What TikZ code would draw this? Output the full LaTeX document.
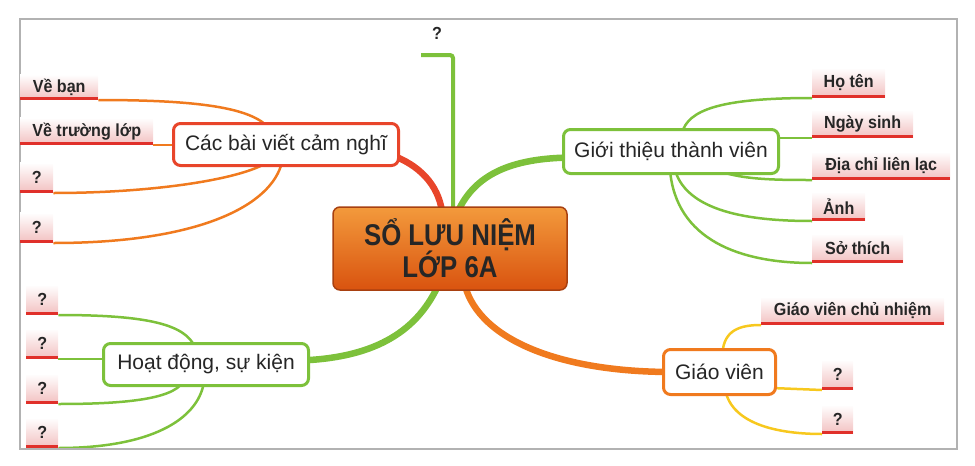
\documentclass[tikz,border=0pt]{standalone}
\usepackage{fontspec}
\setmainfont{Liberation Sans}
\newfontfamily\condfont[FakeStretch=0.86]{Liberation Sans}
\newfontfamily\labfont[FakeStretch=0.92]{Liberation Sans}
\usetikzlibrary{calc}
\pgfdeclarelayer{bg}
\pgfsetlayers{bg,main}
\definecolor{grn}{HTML}{7DC13B}
\definecolor{org}{HTML}{F07A1E}
\definecolor{redo}{HTML}{E8452A}
\definecolor{yel}{HTML}{F7C81E}
\definecolor{undl}{HTML}{E0302A}
\definecolor{pinkb}{HTML}{F2C0C0}
\definecolor{txt}{HTML}{262626}
\definecolor{ctop}{HTML}{F39A3C}
\definecolor{cbot}{HTML}{D9530F}
\definecolor{cbrd}{HTML}{A84010}
\tikzset{
  mainnode/.style={draw, line width=3pt, rounded corners=7pt, fill=white,
    font=\fontsize{21}{25}\selectfont, text=txt, inner sep=0pt},
  lab/.style={anchor=south west, top color=white, bottom color=pinkb,
    font=\labfont\bfseries\fontsize{17.5}{20}\selectfont, text=txt, inner sep=0pt,
    minimum height=28pt,
    path picture={\draw[undl, line width=6pt]
      (path picture bounding box.south west) -- (path picture bounding box.south east);}},
  centernode/.style={draw=cbrd, line width=1.5pt, rounded corners=7pt,
    top color=ctop, bottom color=cbot, text=txt, align=center,
    font=\condfont\bfseries\fontsize{30}{32}\selectfont, inner sep=0pt},
  mainbr/.style={line width=6.5pt},
  subbr/.style={line width=2.5pt},
}
\begin{document}
\begin{tikzpicture}[x=1pt,y=-1pt]
\useasboundingbox (0,0) rectangle (975,466);
\draw[gray!60, line width=1.5pt] (20,19) rectangle (957,449);

% center
\node[centernode, minimum width=234pt, minimum height=83pt] (c) at (450,248.5) {SỔ LƯU NIỆM\\LỚP 6A};

% main nodes
\node[mainnode, draw=redo, minimum width=225pt, minimum height=42pt] (cb) at (286,144.5) {Các bài viết cảm nghĩ};
\node[mainnode, draw=grn, minimum width=215pt, minimum height=44pt] (gt) at (671,151.5) {Giới thiệu thành viên};
\node[mainnode, draw=org, minimum width=112pt, minimum height=45pt] (gv) at (719.5,372) {Giáo viên};
\node[mainnode, draw=grn, minimum width=205pt, minimum height=42pt] (hd) at (206,364.5) {Hoạt động, sự kiện};

% top question
\node[font=\labfont\bfseries\fontsize{17.5}{20}\selectfont, text=txt] (q0) at (437,33) {?};
\coordinate (qt) at (421,55);

% left labels
\node[lab, minimum width=78pt, minimum height=25pt] (l1) at (20,100) {Về bạn};
\node[lab, minimum width=133pt, minimum height=27pt] (l2) at (20,145) {Về trường lớp};
\node[lab, minimum width=33pt, minimum height=30pt] (l3) at (20,193) {?};
\node[lab, minimum width=33pt, minimum height=30pt] (l4) at (20,243) {?};

% right labels
\node[lab, minimum width=73pt, minimum height=30pt] (r1) at (812,98) {Họ tên};
\node[lab, minimum width=101pt] (r2) at (812,138) {Ngày sinh};
\node[lab, minimum width=138pt] (r3) at (812,180) {Địa chỉ liên lạc};
\node[lab, minimum width=53pt, minimum height=29pt] (r4) at (812,221) {Ảnh};
\node[lab, minimum width=91pt, minimum height=29pt] (r5) at (812,263) {Sở thích};

% teacher labels
\node[lab, minimum width=183pt] (y1) at (761,325) {Giáo viên chủ nhiệm};
\node[lab, minimum width=31pt, minimum height=30pt] (y2) at (822,390) {?};
\node[lab, minimum width=31pt, minimum height=29pt] (y3) at (822,434) {?};

% activity labels
\node[lab, minimum width=32pt, minimum height=30pt] (h1) at (26,315) {?};
\node[lab, minimum width=32pt, minimum height=30pt] (h2) at (26,359) {?};
\node[lab, minimum width=32pt, minimum height=30pt] (h3) at (26,404) {?};
\node[lab, minimum width=32pt, minimum height=30pt] (h4) at (26,448) {?};

\begin{pgfonlayer}{bg}
% top branch
\draw[grn, line width=4pt, rounded corners=3pt] (qt) -| ($(c.north)+(3,5)$);
% main branches
\draw[redo, mainbr] ($(c.north)+(-8,5)$) .. controls (438,185) and (420,165) .. ($(cb.east)+(-10,10)$);
\draw[grn, mainbr] ($(c.north)+(8,5)$) .. controls (475,175) and (510,158) .. ($(gt.west)+(10,6)$);
\draw[org, mainbr] ($(c.south)+(15,-5)$) .. controls (480,340) and (560,372) .. ($(gv.west)+(10,0)$);
\draw[grn, mainbr] ($(c.south)+(-12,-5)$) .. controls (415,335) and (370,358) .. ($(hd.east)+(-10,-4)$);
% Cac bai viet subs
\draw[org, subbr] (l1.south east) .. controls (200,100) and (250,108) .. ($(cb.north)+(-18,5)$);
\draw[org, subbr] (l2.south east) -- ($(cb.west |- l2.south east)+(5,0)$);
\draw[org, subbr] (l3.south east) .. controls (150,193) and (240,180) .. ($(cb.south)+(-18,-5)$);
\draw[org, subbr] (l4.south east) .. controls (200,243) and (272,205) .. ($(cb.south)+(-4,-5)$);
% Gioi thieu subs
\draw[grn, subbr] (r1.south west) .. controls (720,98) and (688,110) .. ($(gt.north)+(11,5)$);
\draw[grn, subbr] ($(gt.east |- r2.south west)+(-5,0)$) -- (r2.south west);
\draw[grn, subbr] ($(gt.south)+(46,-5)$) .. controls (740,180) and (780,180) .. (r3.south west);
\draw[grn, subbr] ($(gt.south)+(4,-5)$) .. controls (688,215) and (760,221) .. (r4.south west);
\draw[grn, subbr] ($(gt.south)+(-1,-5)$) .. controls (676,240) and (740,263) .. (r5.south west);
% Giao vien subs
\draw[yel, subbr] ($(gv.north)+(3,5)$) .. controls (724,330) and (740,325) .. (y1.south west);
\draw[yel, subbr] ($(gv.east)+(-5,16)$) -- (y2.south west);
\draw[yel, subbr] ($(gv.south)+(6,-5)$) .. controls (733,425) and (780,434) .. (y3.south west);
% Hoat dong subs
\draw[grn, subbr] (h1.south east) .. controls (150,315) and (185,325) .. ($(hd.north)+(-11,5)$);
\draw[grn, subbr] (h2.south east) -- ($(hd.west |- h2.south east)+(5,0)$);
\draw[grn, subbr] (h3.south east) .. controls (120,404) and (172,400) .. ($(hd.south)+(-23,-5)$);
\draw[grn, subbr] (h4.south east) .. controls (150,448) and (198,420) .. ($(hd.south)+(-2,-5)$);
\end{pgfonlayer}
\end{tikzpicture}
\end{document}
